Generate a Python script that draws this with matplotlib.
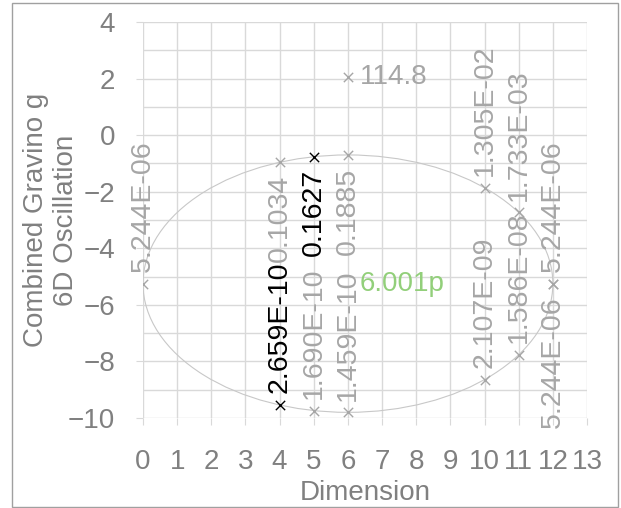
import numpy as np
import matplotlib
matplotlib.use('Agg')
import matplotlib.pyplot as plt
from matplotlib.patches import Ellipse, Rectangle

plt.rcParams['font.family'] = ['Liberation Sans', 'DejaVu Sans']

# gray points with labels
x_gray = [0, 4, 5, 6, 6, 6, 10, 10, 11, 11, 12, 12]
y_gray = [-5.25, -0.96, -9.74, -0.7, -9.8, 2.05, -1.86, -8.64, -2.73, -7.77, -5.25, -5.25]
lab_gray = ['5.244E-06', '0.1034', '1.690E-10', '0.1885', '1.459E-10', '114.8',
            '1.305E-02', '2.107E-09', '1.733E-03', '1.586E-08', '5.244E-06', '5.244E-06']
pos_gray = ['above', 'below', 'above', 'below', 'above', 'right',
            'above', 'above', 'above', 'above', 'above', 'below']

# black points
x_black = [4, 5]
y_black = [-9.54, -0.76]
lab_black = ['2.659E-10', '0.1627']
pos_black = ['above', 'below']

# center label
x_center = 6
y_center = -5.25
lab_center = '6.001p'

# ellipse outline
ell_width = 12
ell_height = 9.1

gray = '#a6a6a6'
axcol = '#808080'
gridcol = '#d9d9d9'

fig = plt.figure(figsize=(6.21, 5.08), dpi=100)
fig.patches.append(Rectangle((12/621, 1 - 507/508), 606/621, 504/508, transform=fig.transFigure,
                             fill=False, edgecolor='#a0a0a0', linewidth=1))
ax = fig.add_axes([143/621, 1 - 418/508, 444/621, 396/508])

ax.add_patch(Ellipse((x_center, y_center), ell_width, ell_height, fill=False,
                     edgecolor='#c8c8c8', linewidth=0.8))

ax.scatter(x_gray, y_gray, marker='x', color=gray, s=45, linewidths=1, zorder=3)
ax.scatter(x_black, y_black, marker='x', color='black', s=45, linewidths=1, zorder=3)


def put(x, y, text, pos, color):
    if pos == 'above':
        ax.annotate(text, (x, y), xytext=(0, 8.5), textcoords='offset points', rotation=90,
                    ha='center', va='bottom', color=color, fontsize=20.5)
    elif pos == 'below':
        ax.annotate(text, (x, y), xytext=(0, -9), textcoords='offset points', rotation=90,
                    ha='center', va='top', color=color, fontsize=20.5)
    else:
        ax.annotate(text, (x, y), xytext=(8.5, 0), textcoords='offset points',
                    ha='left', va='center', color=color, fontsize=20)


for x, y, t, p in zip(x_gray, y_gray, lab_gray, pos_gray):
    put(x, y, t, p, gray)
for x, y, t, p in zip(x_black, y_black, lab_black, pos_black):
    put(x, y, t, p, 'black')
put(x_center, y_center, lab_center, 'right', '#92cf7a')

ax.set_xlim(0, 13)
ax.set_ylim(-10, 4)
ax.set_xticks(range(0, 14))
ax.set_yticks(range(-10, 5, 2))
ax.set_yticks(range(-9, 4, 2), minor=True)
ax.grid(True, which='both', color=gridcol, linewidth=1)
ax.set_axisbelow(True)
for s in ax.spines.values():
    s.set_visible(False)
ax.tick_params(axis='both', which='major', length=5, color=gridcol, labelcolor=axcol,
               labelsize=20, pad=17)
ax.tick_params(axis='y', which='major', pad=15)
ax.tick_params(axis='y', which='minor', length=0)
ax.set_xlabel('Dimension', color=axcol, fontsize=20, labelpad=4)
ax.set_ylabel('Combined Gravino g\n6D Oscillation', color=axcol, fontsize=20, labelpad=-8)

fig.savefig('out.png', dpi=100)
